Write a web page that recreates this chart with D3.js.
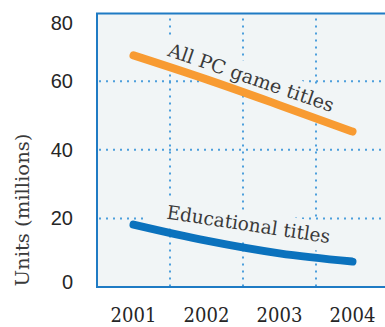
<!DOCTYPE html>
<html>
<head>
<meta charset="utf-8">
<script src="https://cdn.jsdelivr.net/npm/d3@7"></script>
<style>
  html, body { margin: 0; padding: 0; background: #ffffff; }
  svg { display: block; }
</style>
</head>
<body>
<svg id="chart" width="385" height="327"></svg>
<script>
// Unit sales of PC software, in millions
const years = ["2001", "2002", "2003", "2004"];
const allPcGameTitles = [67.5, 60.5, 53, 45.3];
const educationalTitles = [18.2, 13.5, 9.8, 7.4];
const yTickValues = [0, 20, 40, 60, 80];
const gridValues = [20, 40, 60];
const seriesNames = ["All PC game titles", "Educational titles"];

const W = 385, H = 327;
const plot = { left: 97, top: 13.5, bottom: 287, right: 389 };

const colors = {
  plotBg: "#f1f5f6",
  frame: "#1f7bc4",
  grid: "#4d9fdc",
  games: "#f89b32",
  edu: "#0b72bd",
  text: "#262626"
};

const svg = d3.select("#chart");

const x = d3.scaleBand().domain(years).range([plot.left, plot.right]).padding(0);
const y = d3.scaleLinear().domain([0, 80]).range([plot.bottom, 12.5]);
const cx = d => x(d) + x.bandwidth() / 2;

// plot background
svg.append("rect")
  .attr("x", plot.left).attr("y", plot.top)
  .attr("width", plot.right - plot.left + 20)
  .attr("height", plot.bottom - plot.top)
  .attr("fill", colors.plotBg);

// dotted grid: horizontal at value ticks, vertical at year boundaries
const grid = svg.append("g")
  .attr("stroke", colors.grid)
  .attr("stroke-width", 2)
  .attr("stroke-dasharray", "2,5");
grid.selectAll("line.h").data(gridValues).join("line")
  .attr("class", "h")
  .attr("x1", plot.left + 2).attr("x2", W + 5)
  .attr("y1", d => y(d)).attr("y2", d => y(d));
grid.selectAll("line.v").data(years.slice(1)).join("line")
  .attr("class", "v")
  .attr("x1", d => x(d)).attr("x2", d => x(d))
  .attr("y1", plot.top + 5).attr("y2", plot.bottom);

// series lines
const line = d3.line()
  .x((d, i) => cx(years[i]))
  .y(d => y(d))
  .curve(d3.curveMonotoneX);

// label placement along each line: anchor in scale terms, rotation, length
const labels = [
  { text: seriesNames[0], ax: x("2003") + 6, av: 59.2, angle: 19, len: 174 },
  { text: seriesNames[1], ax: x("2003") + 4.5, av: 16.35, angle: 8.6, len: 165 }
];

// knock out the grid behind each label
labels.forEach(l => {
  svg.append("rect")
    .attr("transform", `translate(${l.ax},${y(l.av)}) rotate(${l.angle})`)
    .attr("x", -l.len / 2 - 20).attr("y", -20)
    .attr("width", l.len + 24).attr("height", 29)
    .attr("fill", colors.plotBg);
});

[[allPcGameTitles, colors.games], [educationalTitles, colors.edu]].forEach(([vals, c]) => {
  svg.append("path")
    .datum(vals)
    .attr("d", line)
    .attr("fill", "none")
    .attr("stroke", c)
    .attr("stroke-width", 8)
    .attr("stroke-linecap", "round")
    .attr("stroke-linejoin", "round");
});

labels.forEach(l => {
  svg.append("text")
    .attr("transform", `translate(${l.ax},${y(l.av)}) rotate(${l.angle})`)
    .attr("text-anchor", "middle")
    .attr("textLength", l.len)
    .attr("lengthAdjust", "spacingAndGlyphs")
    .attr("font-family", "'DejaVu Serif', serif")
    .attr("font-size", 19)
    .attr("fill", "#3a3a3a")
    .text(l.text);
});

// frame: left, top and bottom edges
svg.append("path")
  .attr("d", `M${W + 5},${plot.top}H${plot.left}V${plot.bottom}H${W + 5}`)
  .attr("fill", "none")
  .attr("stroke", colors.frame)
  .attr("stroke-width", 2);

// y axis tick labels
const yAxis = svg.append("g")
  .attr("transform", `translate(${plot.left},0)`)
  .call(d3.axisLeft(y).tickValues(yTickValues).tickSize(0).tickPadding(24));
yAxis.select(".domain").remove();
yAxis.selectAll("text")
  .attr("font-family", "'Liberation Sans', Arial, sans-serif")
  .attr("font-size", 20)
  .attr("fill", colors.text)
  .attr("dy", d => d === 80 ? "0.85em" : d === 0 ? "0.05em" : "0.32em");

// x axis year labels
const xAxis = svg.append("g")
  .attr("transform", `translate(0,${plot.bottom})`)
  .call(d3.axisBottom(x).tickSize(0).tickPadding(0));
xAxis.select(".domain").remove();
xAxis.selectAll("text")
  .attr("font-family", "'DejaVu Serif Condensed', 'DejaVu Serif', serif")
  .attr("font-stretch", "condensed")
  .attr("font-size", 20)
  .attr("fill", colors.text)
  .attr("y", 35)
  .attr("dy", 0);

// y axis title
svg.append("text")
  .attr("transform", `translate(28.5,${210}) rotate(-90)`)
  .attr("text-anchor", "middle")
  .attr("textLength", 153)
  .attr("lengthAdjust", "spacingAndGlyphs")
  .attr("font-family", "'DejaVu Serif', serif")
  .attr("font-size", 18)
  .attr("fill", "#3a3a3a")
  .text("Units (millions)");
</script>
</body>
</html>
